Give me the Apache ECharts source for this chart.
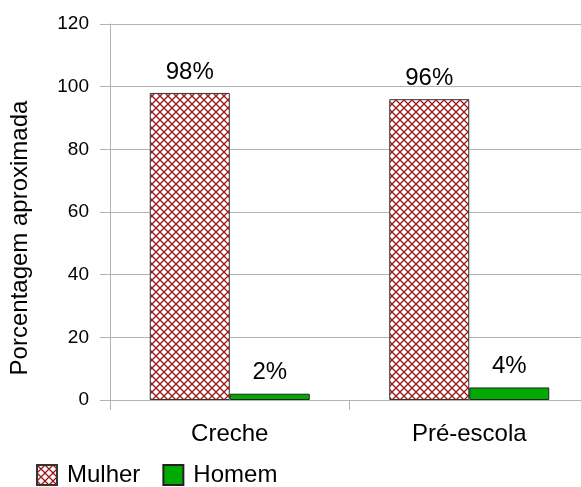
<!DOCTYPE html>
<html>
<head>
<meta charset="utf-8">
<script src="https://cdn.jsdelivr.net/npm/echarts@6/dist/echarts.min.js"></script>
<style>
  html, body { margin: 0; padding: 0; background: #fff; overflow: hidden; }
  #chart { width: 590px; height: 487px; }
</style>
</head>
<body>
<div id="chart"></div>
<script>
const categories = ['Creche', 'Pré-escola'];
const mulher = [98, 96];
const homem = [2, 4];
const yTicks = [0, 20, 40, 60, 80, 100, 120];

// Cross-hatch fill for the "Mulher" bars
function crossHatch() {
  const c = document.createElement('canvas');
  c.width = 8; c.height = 8;
  const g = c.getContext('2d');
  g.fillStyle = '#ffffff';
  g.fillRect(0, 0, 8, 8);
  g.strokeStyle = '#9e1414';
  g.lineWidth = 1.3;
  g.beginPath();
  g.moveTo(0, 0); g.lineTo(8, 8);
  g.moveTo(8, 0); g.lineTo(0, 8);
  g.moveTo(-4, 4); g.lineTo(4, 12);
  g.moveTo(4, -4); g.lineTo(12, 4);
  g.moveTo(4, 12); g.lineTo(12, 4);
  g.moveTo(-4, 4); g.lineTo(4, -4);
  g.stroke();
  return c;
}

const font = 'Liberation Sans, Arial, sans-serif';
const chart = echarts.init(document.getElementById('chart'), null, { renderer: 'canvas' });

chart.setOption({
  animation: false,
  backgroundColor: '#ffffff',
  textStyle: { fontFamily: font },
  grid: { left: 107, right: 1, top: 24, bottom: 87, containLabel: false },
  legend: {
    left: 31, top: 458,
    icon: 'rect',
    itemWidth: 20, itemHeight: 20, itemGap: 22,
    textStyle: { fontSize: 24, color: '#000', fontFamily: font, padding: [0, 0, 0, 5] },
    data: ['Mulher', 'Homem']
  },
  xAxis: {
    type: 'category',
    data: categories,
    axisLine: { lineStyle: { color: '#b3b3b3', width: 1 } },
    axisTick: { show: true, length: 10, lineStyle: { color: '#b3b3b3' } },
    axisLabel: { fontSize: 24, color: '#000', margin: 22, fontFamily: font },
    splitLine: { show: false }
  },
  yAxis: {
    type: 'value',
    min: yTicks[0], max: yTicks[yTicks.length - 1], interval: 20,
    name: 'Porcentagem aproximada',
    nameLocation: 'middle',
    nameGap: 78,
    nameRotate: 90,
    nameTextStyle: { fontSize: 24, color: '#000', fontFamily: font, padding: [0, 52, 0, 0] },
    axisLine: { show: true, lineStyle: { color: '#b3b3b3', width: 1 } },
    axisTick: { show: true, length: 10, lineStyle: { color: '#b3b3b3' } },
    axisLabel: { fontSize: 19, color: '#000', margin: 21, fontFamily: font, padding: [4, 0, 0, 0] },
    splitLine: { show: true, lineStyle: { color: '#b3b3b3', width: 1 } }
  },
  series: [
    {
      name: 'Mulher',
      type: 'bar',
      data: mulher,
      barWidth: 80,
      barGap: '0%',
      itemStyle: {
        color: { image: crossHatch(), repeat: 'repeat' },
        borderColor: '#333333', borderWidth: 1
      },
      label: {
        show: true, position: 'top', distance: 9,
        formatter: p => p.value + '%',
        fontSize: 24, color: '#000', fontFamily: font
      }
    },
    {
      name: 'Homem',
      type: 'bar',
      data: homem,
      barWidth: 80,
      barGap: '0%',
      itemStyle: { color: '#00aa00', borderColor: '#222222', borderWidth: 1 },
      label: {
        show: true, position: 'top', distance: 9,
        formatter: p => p.value + '%',
        fontSize: 24, color: '#000', fontFamily: font
      }
    }
  ]
});
</script>
</body>
</html>
